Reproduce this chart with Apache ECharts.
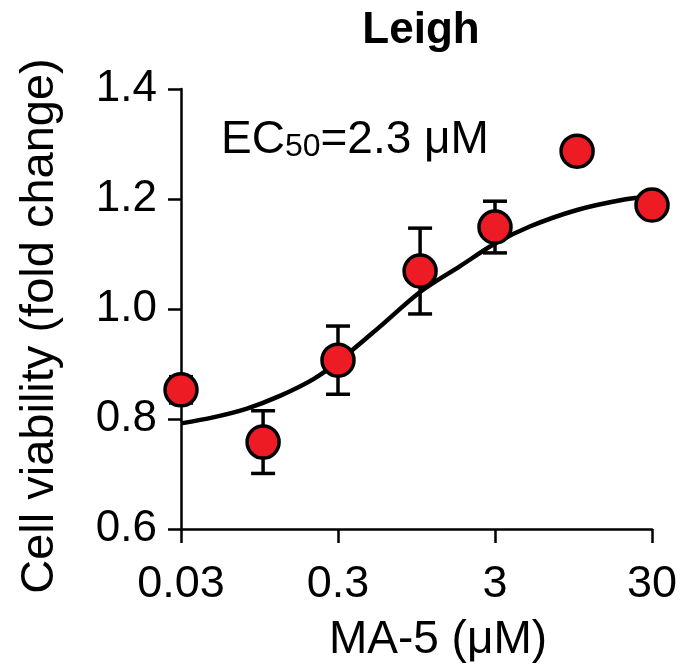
<!DOCTYPE html>
<html>
<head>
<meta charset="utf-8">
<script src="https://cdn.jsdelivr.net/npm/echarts@6/dist/echarts.min.js"></script>
<style>
html,body{margin:0;padding:0;background:#fff;}
#chart{width:683px;height:670px;}
</style>
</head>
<body>
<div id="chart"></div>
<script>
// ---- data ----
var chartTitle = 'Leigh';
var xAxisTitle = 'MA-5 (μM)';
var yAxisTitle = 'Cell viability (fold change)';
var xTickLabels = ['0.03', '0.3', '3', '30'];
var xBase = 0.03;                       // lowest tick on the log-scaled x axis
var yMin = 0.6, yMax = 1.4, yStep = 0.2;

var doses = [0.03, 0.1, 0.3, 1, 3, 10, 30];
var viability = [0.853, 0.758, 0.907, 1.069, 1.149, 1.287, 1.189];
var sem = [0.024, 0.057, 0.062, 0.078, 0.047, 0, 0];

var fitX = [0.03, 0.048, 0.079, 0.128, 0.208, 0.3, 0.55, 1, 1.8, 3, 5, 10, 20, 30];
var fitY = [0.792, 0.803, 0.819, 0.842, 0.872, 0.904, 0.967, 1.031, 1.078, 1.119, 1.150, 1.180, 1.199, 1.205];

// ---- build ----
function lx(v) { return Math.log10(v / xBase); }   // decades above 0.03

var pts = doses.map(function (d, i) { return [lx(d), viability[i]]; });
var errs = doses.map(function (d, i) { return [lx(d), viability[i] - sem[i], viability[i] + sem[i]]; });
var fit = fitX.map(function (d, i) { return [lx(d), fitY[i]]; });

var FONT = '"Liberation Sans", Arial, Helvetica, sans-serif';
var chart = echarts.init(document.getElementById('chart'), null, { renderer: 'canvas' });

chart.setOption({
  animation: false,
  backgroundColor: '#fff',
  grid: { left: 181, right: 31, top: 89, bottom: 141, containLabel: false },
  graphic: [
    { type: 'text', x: 421, y: 31,
      style: { text: chartTitle, fill: '#000', font: 'bold 44px ' + FONT,
               textAlign: 'center', textVerticalAlign: 'middle' } },
    { type: 'text', x: 221, y: 140,
      style: { text: 'EC{sub|50}=2.3 μM', fill: '#000', font: '46px ' + FONT,
               textAlign: 'left', textVerticalAlign: 'middle',
               rich: { sub: { fontSize: 32, fontFamily: FONT, verticalAlign: 'bottom', lineHeight: 32 } } } },
    { type: 'text', x: 40, y: 326, rotation: Math.PI / 2,
      style: { text: yAxisTitle, fill: '#000', font: '47px ' + FONT,
               textAlign: 'center', textVerticalAlign: 'middle' } },
    { type: 'text', x: 438, y: 640,
      style: { text: xAxisTitle, fill: '#000', font: '46px ' + FONT,
               textAlign: 'center', textVerticalAlign: 'middle' } }
  ],
  xAxis: {
    type: 'value', min: 0, max: 3, interval: 1,
    axisLine: { show: true, lineStyle: { color: '#000', width: 2.5 } },
    axisTick: { show: true, length: 14, lineStyle: { color: '#000', width: 2.5 } },
    axisLabel: { margin: 33, fontSize: 45, fontFamily: FONT, color: '#000',
      formatter: function (v) { return xTickLabels[Math.round(v)]; } },
    splitLine: { show: false }
  },
  yAxis: {
    type: 'value', min: yMin, max: yMax, interval: yStep,
    axisLine: { show: true, lineStyle: { color: '#000', width: 2.5 } },
    axisTick: { show: true, length: 13, lineStyle: { color: '#000', width: 2.5 } },
    axisLabel: { margin: 24, fontSize: 44, fontFamily: FONT, color: '#000',
      formatter: function (v) { return v.toFixed(1); } },
    splitLine: { show: false }
  },
  series: [
    { type: 'line', data: fit, showSymbol: false, smooth: 0.3, z: 2,
      lineStyle: { color: '#000', width: 4.5 } },
    { type: 'custom', data: errs, z: 3,
      renderItem: function (params, api) {
        var x = api.value(0);
        var lo = api.coord([x, api.value(1)]);
        var hi = api.coord([x, api.value(2)]);
        var hw = 12;
        var st = { stroke: '#000', lineWidth: 3.5 };
        return { type: 'group', children: [
          { type: 'line', shape: { x1: lo[0], y1: lo[1], x2: hi[0], y2: hi[1] }, style: st },
          { type: 'line', shape: { x1: lo[0] - hw, y1: lo[1], x2: lo[0] + hw, y2: lo[1] }, style: st },
          { type: 'line', shape: { x1: hi[0] - hw, y1: hi[1], x2: hi[0] + hw, y2: hi[1] }, style: st }
        ]};
      } },
    { type: 'scatter', data: pts, symbol: 'circle', symbolSize: 32, z: 5,
      itemStyle: { color: '#ED1C24', borderColor: '#000', borderWidth: 3.5, opacity: 1 } }
  ]
});
</script>
</body>
</html>
